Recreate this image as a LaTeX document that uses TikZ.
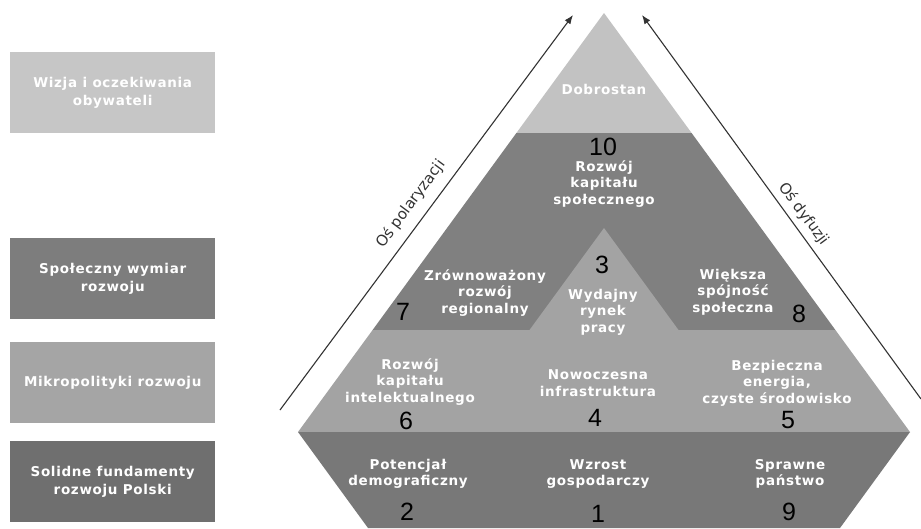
\documentclass[tikz,border=0pt]{standalone}
\usepackage{fontspec}
\setmainfont{Liberation Sans}
\newfontfamily\labfont[LetterSpace=5]{DejaVu Sans}
\newfontfamily\axfont{DejaVu Sans}
\usetikzlibrary{arrows.meta}
\definecolor{cTop}{HTML}{C2C2C2}
\definecolor{cDark}{HTML}{808080}
\definecolor{cMid}{HTML}{A3A3A3}
\definecolor{cBase}{HTML}{787878}
\definecolor{bWizja}{HTML}{C6C6C6}
\definecolor{bSpol}{HTML}{7D7D7D}
\definecolor{bMikro}{HTML}{A5A5A5}
\definecolor{bSol}{HTML}{6F6F6F}
\definecolor{axisc}{HTML}{333333}
\begin{document}
\begin{tikzpicture}[x=1pt,y=-1pt,
  lab/.style={text=white, align=center, inner sep=0pt,
    font={\labfont\bfseries\fontsize{13.5}{16.5}\selectfont}},
  num/.style={text=black, inner sep=0pt, font={\fontsize{25}{25}\selectfont}},
  sidebox/.style={minimum width=205pt, minimum height=81pt, anchor=north west,
    inner sep=0pt, text=white, align=center,
    font={\labfont\bfseries\fontsize{13.5}{18}\selectfont}},
  axis/.style={draw=axisc, line width=1.1pt, -{Latex[length=9pt,width=7pt]}},
  axlab/.style={text=axisc, inner sep=0pt, font={\axfont\fontsize{15}{15}\selectfont}}]
\useasboundingbox (0,0) rectangle (921,528);
\fill[white] (0,0) rectangle (921,528);

% left boxes
\node[sidebox, fill=bWizja] (wizja) at (10,52) {Wizja i oczekiwania\\obywateli};
\node[sidebox, fill=bSpol] (spol) at (10,238) {Społeczny wymiar\\rozwoju};
\node[sidebox, fill=bMikro] (mikro) at (10,342) {Mikropolityki rozwoju};
\node[sidebox, fill=bSol] (sol) at (10,441) {Solidne fundamenty\\rozwoju Polski};

% pyramid
\coordinate (apex) at (604,13);
\coordinate (t1l) at (516.4,133);
\coordinate (t1r) at (691.6,133);
\coordinate (t2l) at (372.6,330);
\coordinate (t2r) at (835.4,330);
\coordinate (t3l) at (298,432);
\coordinate (t3r) at (910,432);
\coordinate (t4l) at (368,528);
\coordinate (t4r) at (840,528);
\coordinate (iapex) at (604,228);
\coordinate (il) at (529.5,330);
\coordinate (ir) at (678.5,330);

\fill[cTop] (apex) -- (t1r) -- (t1l) -- cycle;
\fill[cDark] (t1l) -- (t1r) -- (t2r) -- (t2l) -- cycle;
\fill[cMid] (t2l) -- (t2r) -- (t3r) -- (t3l) -- cycle;
\fill[cMid] (iapex) -- (ir) -- (il) -- cycle;
\fill[cBase] (t3l) -- (t3r) -- (t4r) -- (t4l) -- cycle;

% labels
\node[lab] (dobro) at (604,89) {Dobrostan};
\node[num] (n10) at (603,147) {10};
\node[lab] (spolk) at (604,184) {Rozwój\\kapitału\\społecznego};
\node[lab] (zrown) at (485,293) {Zrównoważony\\rozwój\\regionalny};
\node[num] (n7) at (403,312) {7};
\node[num] (n3) at (602,265) {3};
\node[lab] (wyd) at (603,312) {Wydajny\\rynek\\pracy};
\node[lab] (wiek) at (733,292) {Większa\\spójność\\społeczna};
\node[num] (n8) at (799,314) {8};
\node[lab] (intel) at (410,382) {Rozwój\\kapitału\\intelektualnego};
\node[num] (n6) at (406,421) {6};
\node[lab] (infra) at (598,383) {Nowoczesna\\infrastruktura};
\node[num] (n4) at (595,418) {4};
\node[lab] (energ) at (777,383) {Bezpieczna\\energia,\\czyste środowisko};
\node[num] (n5) at (788,420) {5};
\node[lab] (demo) at (408,474) {Potencjał\\demograficzny};
\node[num] (n2) at (407,512) {2};
\node[lab] (wzrost) at (598,474) {Wzrost\\gospodarczy};
\node[num] (n1) at (598,514) {1};
\node[lab] (panst) at (790,474) {Sprawne\\państwo};
\node[num] (n9) at (789,512) {9};

% axes
\coordinate (polS) at (280,410);
\coordinate (polE) at (573,15);
\coordinate (dyfS) at (921,399);
\coordinate (dyfE) at (642,15);
\draw[axis] (polS) -- (polE);
\draw[axis] (dyfS) -- (dyfE);
\node[axlab, rotate=53.5] (polLab) at (411,204) {Oś polaryzacji};
\node[axlab, rotate=-53.5] (dyfLab) at (804,214) {Oś dyfuzji};
\end{tikzpicture}
\end{document}
